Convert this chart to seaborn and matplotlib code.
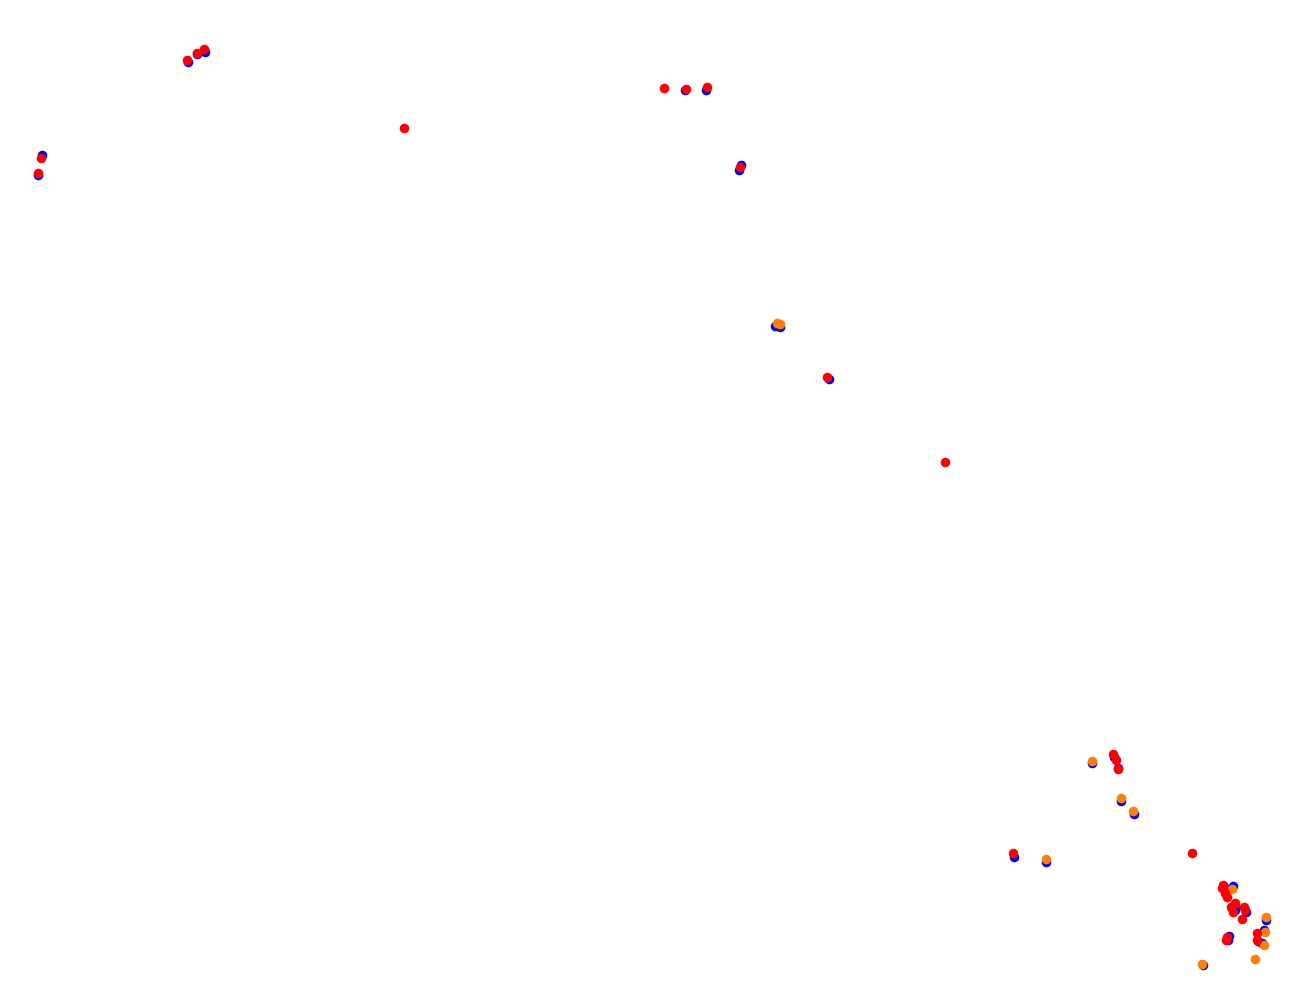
import matplotlib

matplotlib.use("Agg")

import matplotlib.pyplot as plt
import pandas as pd
import seaborn as sns

# point positions (x to the right, y downwards)
blue_x = [205, 197, 188, 42, 38, 685, 706, 741, 739, 775, 780, 829, 1014, 1046,
          1092, 1114, 1118, 1121, 1134, 1224, 1233, 1235, 1235, 1228, 1266, 1229,
          1262, 1258, 1264, 1203, 1246]
blue_y = [52, 54, 62, 155, 175, 90, 90, 165, 170, 326, 327, 379, 857, 862,
          763, 757, 768, 801, 814, 887, 886, 910, 906, 940, 920, 936,
          943, 941, 930, 965, 912]

orange_x = [777, 780, 1092, 1121, 1133, 1046, 1232, 1266, 1265, 1264, 1202, 1255]
orange_y = [323, 324, 761, 798, 811, 859, 889, 917, 932, 945, 964, 959]

red_x = [204, 197, 187, 41, 38, 404, 664, 686, 707, 740, 827, 945, 1013, 1113,
         1116, 1118, 1192, 1223, 1222, 1225, 1227, 1235, 1231, 1233, 1244, 1245,
         1242, 1227, 1226, 1257, 1257]
red_y = [49, 53, 60, 158, 173, 128, 88, 89, 87, 167, 377, 462, 853, 754,
         760, 769, 853, 885, 888, 893, 897, 903, 907, 912, 907, 910,
         919, 937, 940, 933, 940]

df = pd.concat(
    [
        pd.DataFrame({"x": blue_x, "y": blue_y, "group": "blue"}),
        pd.DataFrame({"x": orange_x, "y": orange_y, "group": "orange"}),
        pd.DataFrame({"x": red_x, "y": red_y, "group": "red"}),
    ],
    ignore_index=True,
)

sns.set_theme(style="white")

fig = plt.figure(figsize=(12.9, 9.9), dpi=100)
ax = fig.add_axes([0, 0, 1, 1])
sns.scatterplot(
    data=df,
    x="x",
    y="y",
    hue="group",
    palette={"blue": "#0000ff", "orange": "#ff8000", "red": "#ff0000"},
    s=48,
    linewidth=0,
    legend=False,
    ax=ax,
)
ax.set_xlim(-0.5, 1289.5)
ax.set_ylim(989.5, -0.5)
ax.axis("off")
fig.savefig("out.png", dpi=100, facecolor="white")
plt.close(fig)
